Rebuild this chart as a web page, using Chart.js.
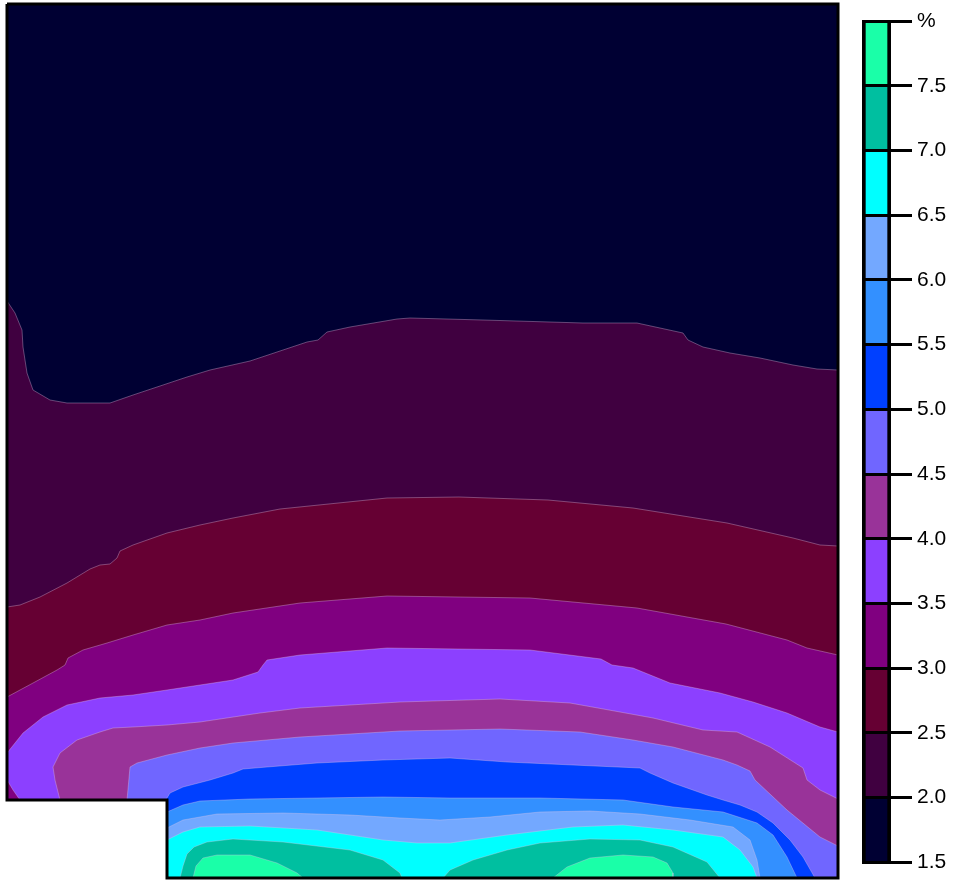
<!DOCTYPE html>
<html>
<head>
<meta charset="utf-8">
<title>Contour</title>
<script src="https://cdn.jsdelivr.net/npm/chart.js@4.4.1/dist/chart.umd.min.js"></script>
<style>
    html, body { margin: 0; padding: 0; background: #fff; }
    #mapBox { position: absolute; left: 0; top: 0; width: 845px; height: 880px; }
    #barBox { position: absolute; left: 840px; top: 0; width: 113px; height: 880px; }
</style>
</head>
<body>
<div id="mapBox"><canvas id="mapChart"></canvas></div>
<div id="barBox"><canvas id="barChart"></canvas></div>
<script>
// Section size (grid units), depth counted down from the top edge
const SECTION_WIDTH = 831;
const SECTION_DEPTH = 874;

// Contour levels (%) and band colours (band i = levels[i] .. levels[i] + 0.5)
const levels = [1.5, 2.0, 2.5, 3.0, 3.5, 4.0, 4.5, 5.0, 5.5, 6.0, 6.5, 7.0, 7.5];
const bandColors = [
    "#000033", "#400040", "#660033", "#800080", "#8c40ff", "#993399", "#7066ff",
    "#0040ff", "#3390ff", "#73a8ff", "#00ffff", "#00bfa0", "#1affa8"
];
const scaleMin = 1.5;
const scaleMax = 8.0;
const scaleStep = 0.5;

// Section outline [x, depth] (notch at the bottom left)
const outline = [[0, 0], [831, 0], [831, 874], [160, 874], [160, 796], [0, 796]];

// Regions where value >= level, [x, depth]
const above20 = [[0, 297], [8, 309], [15, 326], [16, 343], [20, 369], [26, 386], [43, 396], [60, 399],
    [103, 399], [126, 391], [153, 382], [180, 373], [203, 366], [243, 357], [276, 346], [300, 338],
    [311, 336], [320, 328], [343, 323], [390, 315], [403, 314], [476, 316], [576, 319], [630, 319],
    [676, 329], [681, 336], [696, 343], [723, 349], [753, 354], [786, 361], [810, 365], [831, 366],
    [831, 874], [160, 874], [160, 796], [0, 796]];
const above25 = [[0, 603], [13, 601], [33, 593], [60, 579], [83, 565], [93, 561], [103, 560], [110, 554],
    [113, 547], [126, 541], [160, 529], [193, 521], [226, 514], [273, 505], [380, 494], [452, 493],
    [541, 496], [626, 504], [720, 519], [786, 534], [813, 541], [831, 542],
    [831, 874], [160, 874], [160, 796], [0, 796]];
const above30 = [[0, 693], [26, 679], [50, 666], [58, 661], [61, 654], [76, 646], [100, 639], [126, 631],
    [160, 621], [193, 616], [226, 609], [293, 599], [380, 592], [523, 594], [630, 604], [719, 620],
    [780, 636], [800, 644], [831, 651],
    [831, 874], [160, 874], [160, 796], [0, 796]];
const above35 = [[0, 749], [16, 729], [36, 713], [60, 701], [93, 694], [126, 691], [160, 686], [193, 681],
    [226, 676], [251, 668], [256, 661], [260, 656], [293, 651], [380, 644], [523, 646], [594, 655],
    [605, 661], [626, 664], [663, 679], [713, 689], [746, 698], [780, 709], [813, 723], [831, 728],
    [831, 874], [160, 874], [160, 796], [13, 796], [6, 786], [0, 776]];
const above40 = [[53, 796], [48, 776], [46, 763], [53, 749], [70, 736], [93, 728], [106, 724], [126, 723],
    [160, 721], [193, 718], [253, 709], [293, 704], [393, 698], [493, 695], [563, 699], [613, 708],
    [646, 714], [696, 726], [730, 728], [763, 743], [796, 764], [800, 776], [813, 786], [831, 795],
    [831, 874], [160, 874], [160, 796]];
const above45 = [[120, 796], [123, 763], [130, 759], [160, 751], [193, 744], [226, 739], [293, 733],
    [393, 727], [493, 725], [573, 728], [626, 736], [666, 743], [716, 756], [730, 761], [743, 767],
    [748, 776], [780, 806], [813, 833], [831, 842],
    [831, 874], [160, 874], [160, 796]];
const above50 = [[160, 794], [163, 789], [176, 783], [203, 776], [226, 769], [236, 765], [260, 763],
    [310, 759], [376, 756], [443, 754], [500, 758], [566, 761], [633, 764], [643, 769], [666, 779],
    [700, 791], [716, 796], [733, 801], [750, 808], [766, 819], [783, 836], [796, 853], [808, 874],
    [160, 874]];
const above55 = [[160, 808], [176, 801], [193, 797], [243, 795], [310, 794], [376, 793], [443, 794],
    [533, 794], [616, 796], [666, 803], [716, 808], [750, 819], [766, 831], [780, 853], [790, 874],
    [160, 874]];
const above60 = [[160, 824], [176, 816], [210, 810], [276, 809], [343, 811], [393, 814], [433, 816],
    [483, 813], [533, 808], [583, 807], [633, 810], [683, 816], [726, 823], [743, 836], [750, 856],
    [753, 874], [160, 874]];
const above65 = [[160, 836], [176, 828], [193, 823], [243, 822], [310, 826], [376, 836], [410, 839],
    [443, 839], [500, 831], [566, 823], [616, 821], [666, 826], [716, 833], [733, 846], [746, 863],
    [750, 874], [160, 874]];
const above70Left = [[173, 874], [176, 862], [180, 850], [187, 843], [200, 838], [226, 835], [276, 838],
    [343, 846], [376, 856], [393, 869], [395, 874]];
const above70Right = [[436, 874], [443, 866], [466, 856], [500, 846], [533, 839], [583, 835], [633, 836],
    [666, 843], [700, 858], [713, 874]];
const above75Left = [[186, 874], [189, 862], [196, 854], [210, 851], [243, 851], [270, 859], [290, 869],
    [296, 874]];
const above75Right = [[546, 874], [560, 863], [583, 854], [616, 851], [646, 853], [660, 859], [666, 869],
    [666, 874]];

// One entry per level: the shapes covering value >= level
const regions = [
    [outline], [above20], [above25], [above30], [above35], [above40], [above45],
    [above50], [above55], [above60], [above65], [above70Left, above70Right], [above75Left, above75Right]
];

const CONTOUR_LINE = "rgba(225, 195, 230, 0.45)";

function toPoints(shape) {
    return shape.map(p => ({ x: p[0], y: p[1] }));
}

function buildMapDatasets() {
    const datasets = [];
    regions.forEach((shapes, i) => {
        shapes.forEach(shape => {
            datasets.push({
                label: levels[i].toFixed(1),
                data: toPoints(shape),
                backgroundColor: bandColors[i],
                borderColor: i === 0 ? "transparent" : CONTOUR_LINE,
                borderWidth: 0.8,
                fill: "shape",
                tension: 0,
                pointRadius: 0,
                order: levels.length - i   // higher levels painted on top
            });
        });
    });

    // Section frame, on top of everything
    datasets.push({
        label: "frame",
        data: toPoints(outline.concat([outline[0]])),
        borderColor: "#000",
        borderWidth: 3,
        borderJoinStyle: "miter",
        fill: false,
        tension: 0,
        pointRadius: 0,
        clip: false,
        order: -1
    });
    return datasets;
}

function renderMap() {
    const ctx = document.getElementById("mapChart").getContext("2d");
    new Chart(ctx, {
        type: "line",
        data: { datasets: buildMapDatasets() },
        options: {
            responsive: true,
            maintainAspectRatio: false,
            animation: false,
            devicePixelRatio: 1,
            layout: { padding: { left: 7, top: 4, right: 7, bottom: 2 } },
            plugins: { legend: { display: false }, tooltip: { enabled: false } },
            scales: {
                x: { type: "linear", min: 0, max: SECTION_WIDTH, display: false },
                y: { type: "linear", min: 0, max: SECTION_DEPTH, reverse: true, display: false }
            }
        }
    });
}

function renderColorbar() {
    const ctx = document.getElementById("barChart").getContext("2d");
    const datasets = levels.map((lvl, i) => ({
        label: lvl.toFixed(1),
        data: [[lvl, lvl + scaleStep]],
        backgroundColor: bandColors[i],
        borderColor: "#000",
        borderWidth: { left: 4, right: 4, top: 0, bottom: 0 },
        borderSkipped: false,
        barPercentage: 1,
        categoryPercentage: 1,
        grouped: false
    }));

    new Chart(ctx, {
        type: "bar",
        data: { labels: ["%"], datasets: datasets },
        options: {
            responsive: true,
            maintainAspectRatio: false,
            animation: false,
            devicePixelRatio: 1,
            layout: { padding: { left: 22, top: 21, bottom: 15, right: 0 } },
            plugins: { legend: { display: false }, tooltip: { enabled: false } },
            scales: {
                x: { display: false },
                y: {
                    position: "right",
                    min: scaleMin,
                    max: scaleMax,
                    afterFit: scale => { scale.width = 62; },
                    border: { display: false },
                    // grid on top of the bars: separators + outside tick marks
                    grid: { color: "#000", lineWidth: 3, tickLength: 21, drawOnChartArea: true, z: 1 },
                    ticks: {
                        stepSize: scaleStep,
                        padding: 5,
                        color: "#000",
                        font: { family: "Liberation Sans, Arial, sans-serif", size: 21 },
                        callback: value => value === scaleMax ? "%" : value.toFixed(1)
                    }
                }
            }
        }
    });
}

renderMap();
renderColorbar();
</script>
</body>
</html>
